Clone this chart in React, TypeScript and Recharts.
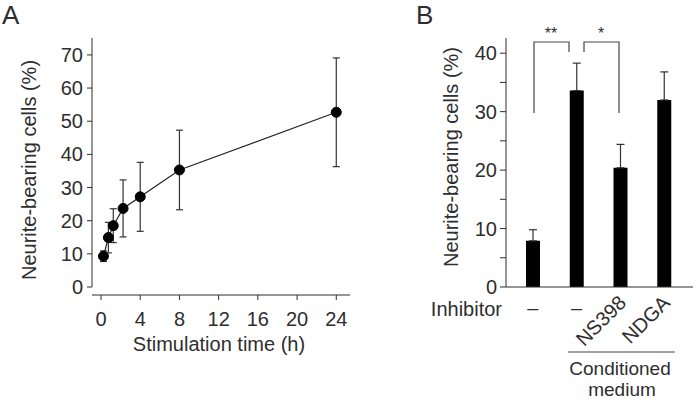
import {
  LineChart,
  Line,
  BarChart,
  Bar,
  XAxis,
  YAxis,
  ErrorBar,
  ReferenceLine,
} from 'recharts';

// Panel A: time course
const timeHours = [0.25, 0.75, 1.25, 2.25, 4, 8, 24];
const timeMean = [9.3, 14.9, 18.5, 23.7, 27.2, 35.3, 52.7];
const timeErr = [1.6, 4.6, 5.1, 8.6, 10.4, 12.0, 16.4];
const timeTicks = [0, 4, 8, 12, 16, 20, 24];
const pctTicksA = [0, 10, 20, 30, 40, 50, 60, 70];

// Panel B: inhibitors
const groups = ['ctrl', 'cm', 'ns398', 'ndga'];
const groupLabels = ['–', '–', 'NS398', 'NDGA'];
const groupMean = [7.9, 33.6, 20.4, 32.0];
const groupErr = [1.9, 4.7, 4.0, 4.8];
const pctTicksB = [0, 5, 10, 15, 20, 25, 30, 35, 40];

const FONT = '"Liberation Sans", Arial, sans-serif';
const INK = '#2e2e2e';

const X_MIN_A = -0.92;
const Y_MAX_A = 75.1;

const lineData = timeHours.map((t, i) => ({
  t,
  mean: timeMean[i],
  err: timeErr[i],
}));

const barData = groups.map((g, i) => ({
  g,
  mean: groupMean[i],
  err: [0, groupErr[i]],
}));

function InhibitorTick(props: any) {
  const { x, y, payload } = props;
  const label = groupLabels[payload.index];
  if (label === '–') {
    return (
      <text x={x} y={y + 28} textAnchor="middle" fontSize={20} fill={INK} fontFamily={FONT}>
        {label}
      </text>
    );
  }
  const ax = x + 7;
  const ay = y + 17;
  return (
    <text
      x={ax}
      y={ay}
      textAnchor="end"
      fontSize={20}
      fill={INK}
      fontFamily={FONT}
      transform={`rotate(-45 ${ax} ${ay})`}
    >
      {label}
    </text>
  );
}

function TimeCourse() {
  return (
    <LineChart
      width={380}
      height={402}
      data={lineData}
      margin={{ top: 38, right: 30, bottom: 77, left: 0 }}
    >
      <XAxis
        type="number"
        dataKey="t"
        domain={[X_MIN_A, 25.4]}
        ticks={timeTicks}
        allowDataOverflow
        height={30}
        tickSize={5}
        tickMargin={12}
        stroke={INK}
        tick={{ fontSize: 20, fill: INK, fontFamily: FONT }}
      />
      <YAxis
        type="number"
        domain={[-2.41, Y_MAX_A]}
        ticks={pctTicksA}
        allowDataOverflow
        width={92}
        axisLine={false}
        tickSize={5}
        tickMargin={4}
        stroke={INK}
        tickLine={{ stroke: INK }}
        tick={{ fontSize: 20, fill: INK, fontFamily: FONT }}
      />
      <ReferenceLine
        segment={[
          { x: X_MIN_A, y: 0 },
          { x: X_MIN_A, y: Y_MAX_A },
        ]}
        stroke={INK}
        ifOverflow="visible"
      />
      <Line
        dataKey="mean"
        stroke="#222"
        strokeWidth={1.2}
        dot={{ r: 5, fill: '#000', stroke: '#000', strokeWidth: 1 }}
        isAnimationActive={false}
      >
        <ErrorBar dataKey="err" direction="y" width={3.5} stroke="#333" strokeWidth={1.2} />
      </Line>
    </LineChart>
  );
}

function InhibitorBars() {
  return (
    <BarChart
      width={297}
      height={402}
      data={barData}
      margin={{ top: 38, right: 4, bottom: 85, left: 46 }}
    >
      <XAxis
        dataKey="g"
        height={30}
        padding={{ left: 5, right: 7 }}
        tickLine={false}
        tickSize={0}
        tickMargin={0}
        stroke={INK}
        interval={0}
        tick={<InhibitorTick />}
      />
      <YAxis
        type="number"
        domain={[0, 42.6]}
        ticks={pctTicksB}
        allowDataOverflow
        width={60}
        tickSize={6}
        tickMargin={3}
        stroke={INK}
        tickFormatter={(v: number) => (v % 10 === 0 ? String(v) : '')}
        tick={{ fontSize: 20, fill: INK, fontFamily: FONT }}
      />
      <Bar dataKey="mean" fill="#000" barSize={14} isAnimationActive={false}>
        <ErrorBar dataKey="err" direction="y" width={4} stroke="#333" strokeWidth={1.2} />
      </Bar>
    </BarChart>
  );
}

export default function App() {
  return (
    <div
      style={{
        position: 'absolute',
        left: 0,
        top: 0,
        width: 697,
        height: 402,
        background: '#fff',
        overflow: 'hidden',
        fontFamily: FONT,
      }}
    >
      <div style={{ position: 'absolute', left: 0, top: 0 }}>
        <TimeCourse />
      </div>
      <div style={{ position: 'absolute', left: 400, top: 0 }}>
        <InhibitorBars />
      </div>
      <svg
        width={697}
        height={402}
        style={{ position: 'absolute', left: 0, top: 0, pointerEvents: 'none' }}
        fontFamily={FONT}
      >
        <text x={2} y={24} fontSize={26} fill={INK}>A</text>
        <text x={416} y={24} fontSize={26} fill={INK}>B</text>

        <text
          x={36}
          y={170}
          fontSize={20}
          fill={INK}
          textAnchor="middle"
          transform="rotate(-90 36 170)"
        >
          Neurite-bearing cells (%)
        </text>
        <text x={219} y={351} fontSize={20} fill={INK} textAnchor="middle">
          Stimulation time (h)
        </text>

        <text
          x={458}
          y={157}
          fontSize={20}
          fill={INK}
          textAnchor="middle"
          transform="rotate(-90 458 157)"
        >
          Neurite-bearing cells (%)
        </text>

        <path d="M534,113 V42 H569 V52" fill="none" stroke="#444" strokeWidth={1.2} />
        <path d="M584,52 V42 H619 V113" fill="none" stroke="#444" strokeWidth={1.2} />
        <text x={551} y={39} fontSize={16} fill={INK} textAnchor="middle">**</text>
        <text x={601} y={39} fontSize={16} fill={INK} textAnchor="middle">*</text>

        <text x={502} y={316} fontSize={20} fill={INK} textAnchor="end">Inhibitor</text>
        <line x1={568} y1={352} x2={675} y2={352} stroke="#444" strokeWidth={1.2} />
        <text x={620} y={375} fontSize={19} fill={INK} textAnchor="middle">Conditioned</text>
        <text x={622} y={396} fontSize={19} fill={INK} textAnchor="middle">medium</text>
      </svg>
    </div>
  );
}
